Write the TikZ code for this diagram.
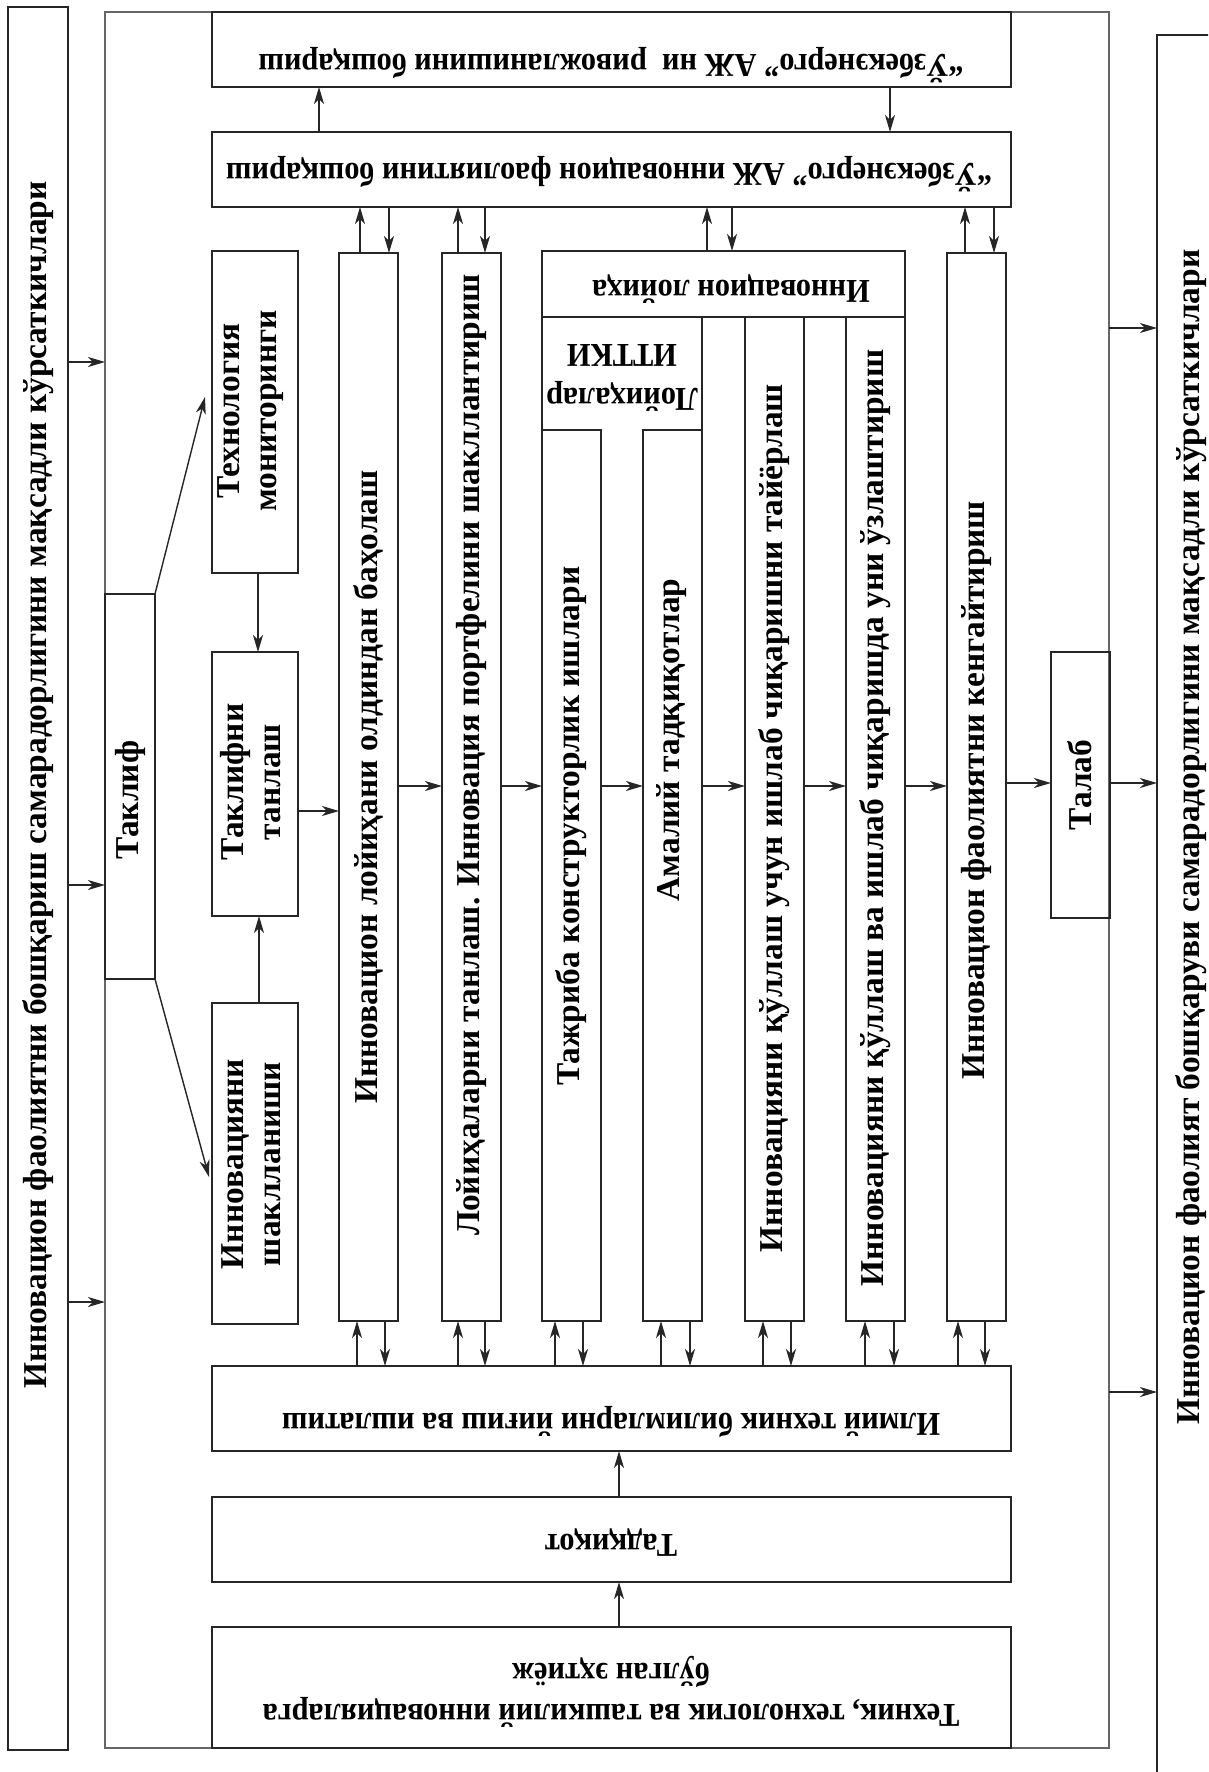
\documentclass[tikz,border=0pt]{standalone}
\usepackage{fontspec}
\setmainfont{Liberation Serif}
\usetikzlibrary{arrows.meta,calc}

\tikzset{
  box/.style={draw=black!85, line width=1.1pt, inner sep=0pt, outer sep=0pt},
  frame/.style={draw=black!60, line width=0.8pt, inner sep=0pt, outer sep=0pt},
  sz/.style 2 args={minimum width=#1*0.2mm, minimum height=#2*0.2mm},
  txt/.style={font=\bfseries\fontsize{19}{21}\selectfont, align=center, inner sep=0pt},
  vtxt/.style={txt, rotate=90},
  utxt/.style={txt, rotate=180, xscale=0.91},
  arr/.style={draw=black!85, line width=0.8pt, -{Stealth[length=3.4mm,width=2mm,inset=1mm]}},
}

\begin{document}
\begin{tikzpicture}[x=0.2mm, y=-0.2mm]
    \useasboundingbox (0,0) rectangle (1208,1772);
    \clip (0,0) rectangle (1208,1772); % right box runs off the page

    % outer goal boxes and the frame
    \node[box, sz={60}{1743}] (goal) at (38,878.5) {};
    \node[vtxt] (goalt) at (38,785)
        {Инновацион фаолиятни бошқариш самарадорлигини мақсадли кўрсаткичлари};
    \node[frame, sz={1004}{1736}] (frm) at (607,880) {};
    \node[box, sz={64}{1780}] (res) at (1189,925) {};
    \node[vtxt] (rest) at (1191,837)
        {Инновацион фаолият бошқаруви самарадорлигини мақсадли кўрсаткичлари};

    % management boxes on top
    \node[box, sz={799}{75}] (box1) at (611.5,49.5) {};
    \node[utxt] (box1t) at (611,65) {“Ўзбекэнерго” АЖ ни \ ривожланишини бошқариш};
    \node[box, sz={799}{75}] (box2) at (611.5,169.5) {};
    \node[utxt] (box2t) at (609,174) {“Ўзбекэнерго” АЖ инновацион фаолиятини бошқариш};

    % left part
    \node[box, sz={50}{385}] (taklif) at (130,786.5) {};
    \node[vtxt] (taklift) at (130,800) {Таклиф};
    \node[box, sz={86}{322}] (tech) at (255,412) {};
    \node[vtxt] (techt) at (251,411) {Технология\\мониторинги};
    \node[box, sz={86}{264}] (tsel) at (255,784) {};
    \node[vtxt] (tselt) at (251,782) {Таклифни\\танлаш};
    \node[box, sz={86}{321}] (inn) at (255,1163.5) {};
    \node[vtxt] (innt) at (251,1164) {Инновацияни\\шаклланиши};

    % stage columns
    \node[box, sz={59}{1068}] (c1) at (368.5,787) {};
    \node[vtxt] (c1t) at (368,787) {Инновацион лойиҳани олдиндан баҳолаш};
    \node[box, sz={59}{1068}] (c2) at (471.5,787) {};
    \node[vtxt] (c2t) at (471,755) {Лойиҳаларни танлаш. Инновация портфелини шакллантириш};
    \node[box, sz={363}{66}] (proj) at (723.5,284) {};
    \node[utxt] (projt) at (731,289) {Инновацион лойиҳа};
    \node[sz={160}{113}, inner sep=0pt, outer sep=0pt] (ittki) at (622,373.5) {};
    \draw[box] (ittki.south west) -- (ittki.north west) -- (ittki.north east) -- (ittki.south east);
    \node[utxt] (ittkit) at (622,378) {Лойиҳалар\\[4pt]ИТТКИ};
    \node[box, sz={59}{891}] (c3) at (571.5,875.5) {};
    \node[vtxt] (c3t) at (571,826) {Тажриба конструкторлик ишлари};
    \node[box, sz={59}{891}] (c4) at (672.5,875.5) {};
    \node[vtxt] (c4t) at (672,740) {Амалий тадқиқотлар};
    \node[box, sz={59}{1004}] (c5) at (774.5,819) {};
    \node[vtxt] (c5t) at (774,818) {Инновацияни қўллаш учун ишлаб чиқаришни тайёрлаш};
    \node[box, sz={59}{1004}] (c6) at (875.5,819) {};
    \node[vtxt] (c6t) at (875,818) {Инновацияни қўллаш ва ишлаб чиқаришда уни ўзлаштириш};
    \node[box, sz={59}{1068}] (c7) at (976.5,787) {};
    \node[vtxt] (c7t) at (976,790) {Инновацион фаолиятни кенгайтириш};
    \node[box, sz={59}{266}] (talab) at (1080.5,785) {};
    \node[vtxt] (talabt) at (1080,785) {Талаб};

    % knowledge boxes at the bottom
    \node[box, sz={799}{85}] (ilm) at (611.5,1408.5) {};
    \node[utxt] (ilmt) at (611,1422) {Илмий техник билимларни йиғиш ва ишлатиш};
    \node[box, sz={799}{85}] (tadq) at (611.5,1539.5) {};
    \node[utxt] (tadqt) at (611,1543) {Тадқиқот};
    \node[box, sz={799}{121}] (need) at (611.5,1687.5) {};
    \node[utxt] (needt) at (611,1692) {Техник, технологик ва ташкилий инновацияларга\\[2pt]бўлган эҳтиёж};

    \coordinate (techin) at (205,397);
    \coordinate (innin)  at (209,1177);

    % connectors
    \draw[arr] (319,0 |- box2.north) -- (319,0 |- box1.south);
    \draw[arr] (890,0 |- box1.south) -- (890,0 |- box2.north);
    \foreach \u/\d/\c in {360/389/c1, 458/485/c2, 707/732/proj, 965/994/c7}{%
      \draw[arr] (\u,0 |- \c.north) -- (\u,0 |- box2.south);
      \draw[arr] (\d,0 |- box2.south) -- (\d,0 |- \c.north);
    }
    \foreach \u/\d/\c in {357/385/c1, 458/485/c2, 555/583/c3, 661/690/c4,
                          763/791/c5, 865/894/c6, 958/985/c7}{%
      \draw[arr] (\u,0 |- ilm.north) -- (\u,0 |- \c.south);
      \draw[arr] (\d,0 |- \c.south) -- (\d,0 |- ilm.north);
    }
    \foreach \a/\b in {c1/c2, c2/c3, c3/c4, c4/c5, c5/c6, c6/c7}{%
      \draw[arr] (\a.east |- 0,786) -- (\b.west |- 0,786);
    }
    \draw[arr] (c7.east |- 0,783) -- (talab.west |- 0,783);
    \draw[arr] (talab.east |- 0,783) -- (res.west |- 0,783);
    \draw[arr] (tsel.east |- 0,811) -- (c1.west |- 0,811);
    \draw[arr] (258,0 |- tech.south) -- (258,0 |- tsel.north);
    \draw[arr] (259,0 |- inn.north) -- (259,0 |- tsel.south);
    \draw[arr] (taklif.north east) -- (techin);
    \draw[arr] (taklif.south east) -- (innin);
    \foreach \y in {362,885,1302}
      \draw[arr] (goal.east |- 0,\y) -- (frm.west |- 0,\y);
    \foreach \y in {328,1392}
      \draw[arr] (frm.east |- 0,\y) -- (res.west |- 0,\y);
    \draw[arr] (619,0 |- need.north) -- (619,0 |- tadq.south);
    \draw[arr] (619,0 |- tadq.north) -- (619,0 |- ilm.south);
\end{tikzpicture}
\end{document}
